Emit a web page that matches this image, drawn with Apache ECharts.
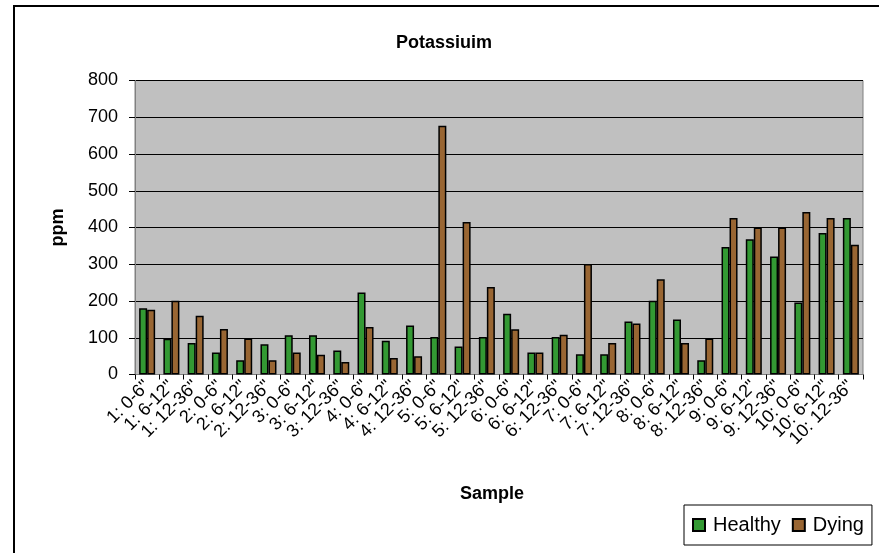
<!DOCTYPE html>
<html>
<head>
<meta charset="utf-8">
<script src="https://cdn.jsdelivr.net/npm/echarts@6/dist/echarts.min.js"></script>
<style>html,body{margin:0;padding:0;background:#fff;}#c{width:879px;height:553px;}</style>
</head>
<body>
<div id="c"></div>
<script>
const categories = ['1: 0-6"','1: 6-12"','1: 12-36"','2: 0-6"','2: 6-12"','2: 12-36"','3: 0-6"','3: 6-12"','3: 12-36"','4: 0-6"','4: 6-12"','4: 12-36"','5: 0-6"','5: 6-12"','5: 12-36"','6: 0-6"','6: 6-12"','6: 12-36"','7: 0-6"','7: 6-12"','7: 12-36"','8: 0-6"','8: 6-12"','8: 12-36"','9: 0-6"','9: 6-12"','9: 12-36"','10: 0-6"','10: 6-12"','10: 12-36"'];
const healthy = [180, 97, 86, 60, 39, 82, 107, 107, 65, 223, 92, 133, 102, 76, 102, 165, 60, 102, 55, 55, 144, 201, 150, 39, 347, 368, 321, 196, 385, 426];
const dying = [176, 201, 160, 124, 98, 39, 60, 54, 34, 129, 45, 50, 677, 415, 238, 123, 60, 108, 301, 86, 139, 259, 86, 98, 426, 400, 400, 442, 426, 353];
const yTicks = [0, 100, 200, 300, 400, 500, 600, 700, 800];

const font = 'Liberation Sans, Arial, sans-serif';
const chart = echarts.init(document.getElementById('c'));
chart.setOption({
  animation: false,
  backgroundColor: '#fff',
  title: {
    text: 'Potassiuim', left: 439, top: 29, textAlign: 'center',
    textStyle: { fontFamily: font, fontSize: 18, fontWeight: 'bold', color: '#000' }
  },
  graphic: [{
    type: 'rect', shape: { x: 14, y: 6, width: 900, height: 600 },
    style: { fill: 'none', stroke: '#000', lineWidth: 2 }, silent: true
  }, {
    type: 'text', left: 460, top: 485,
    style: { text: 'Sample', font: 'bold 18px ' + font, fill: '#000' }
  }],
  legend: {
    left: 684, top: 505, padding: [10, 8, 10, 8],
    itemWidth: 12, itemHeight: 12, itemGap: 11, icon: 'rect',
    borderColor: '#000', borderWidth: 1, backgroundColor: '#fff',
    textStyle: { fontFamily: font, fontSize: 20, color: '#000', padding: [0, 0, 0, 3] },
    data: ['Healthy', 'Dying']
  },
  grid: {
    left: 135, right: 16, top: 80.5, bottom: 178.5,
    show: true, backgroundColor: '#C0C0C0', borderColor: '#808080', borderWidth: 1
  },
  xAxis: {
    type: 'category', data: categories,
    axisLine: { show: true, lineStyle: { color: '#808080', width: 1 } },
    axisTick: { show: true, length: 5, alignWithLabel: false, lineStyle: { color: '#000' } },
    axisLabel: { rotate: 45, interval: 0, margin: 9, fontFamily: font, fontSize: 18, color: '#000' },
    splitLine: { show: false }
  },
  yAxis: {
    type: 'value', min: yTicks[0], max: yTicks[yTicks.length - 1], interval: 100,
    name: 'ppm', nameLocation: 'middle', nameGap: 68,
    nameTextStyle: { fontFamily: font, fontSize: 18, fontWeight: 'bold', color: '#000' },
    axisLine: { show: true, lineStyle: { color: '#808080' } },
    axisTick: { show: true, length: 6, lineStyle: { color: '#000' } },
    axisLabel: { fontFamily: font, fontSize: 18, color: '#000', margin: 17 },
    splitLine: { show: true, lineStyle: { color: '#000', width: 1 } }
  },
  series: [{
    name: 'Healthy', type: 'bar', data: healthy, barGap: '0%', barCategoryGap: '34%',
    itemStyle: { color: '#339933', borderColor: '#000', borderWidth: 1.5 }
  }, {
    name: 'Dying', type: 'bar', data: dying, barGap: '0%', barCategoryGap: '34%',
    itemStyle: { color: '#996633', borderColor: '#000', borderWidth: 1.5 }
  }]
});
</script>
</body>
</html>
